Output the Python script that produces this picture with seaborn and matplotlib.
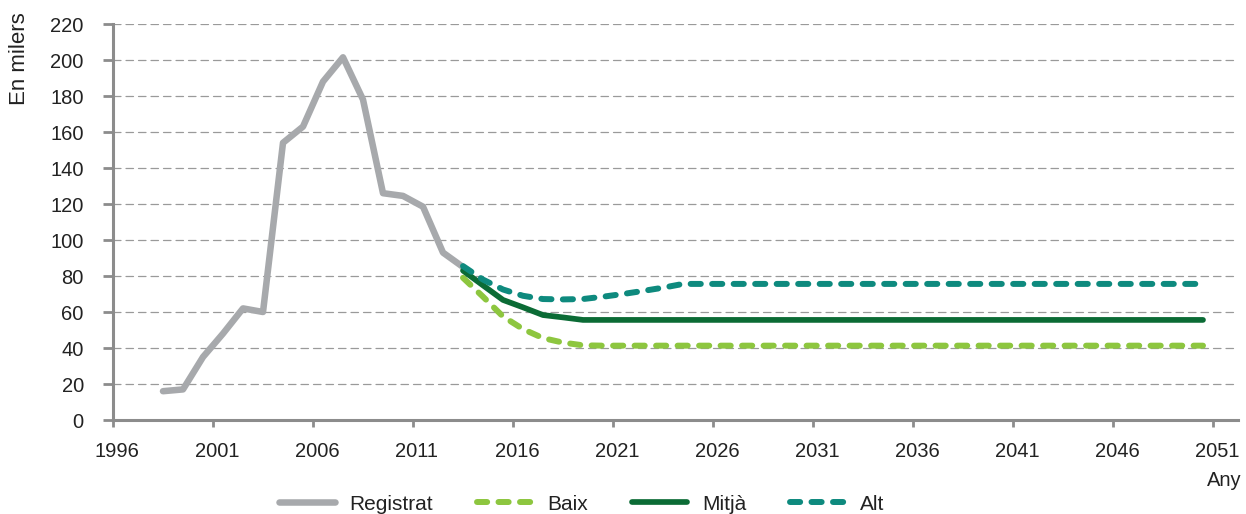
import matplotlib
matplotlib.use('agg')
from matplotlib import pyplot as plt
from matplotlib.ticker import FixedLocator
import seaborn as sns
import pandas as pd

# dades (en milers)
anys_reg = list(range(1998, 2014))
registrat = [16, 17, 35, 48, 62, 60, 154, 163, 188, 201.5, 178, 126, 124.5, 118.5, 93, 85]

anys_proj = list(range(2013, 2051))
baix = [79, 68.5, 57.5, 50.5, 45.5, 43, 41.5,
        41.3, 41.3, 41.3, 41.3, 41.3, 41.3, 41.3, 41.3, 41.3, 41.3,
        41.3, 41.3, 41.3, 41.3, 41.3, 41.3, 41.3, 41.3, 41.3, 41.3,
        41.3, 41.3, 41.3, 41.3, 41.3, 41.3, 41.3, 41.3, 41.3, 41.3, 41.3]
mitja = [83, 74.8, 66.7, 62.6, 58.3, 57, 55.6,
         55.6, 55.6, 55.6, 55.6, 55.6, 55.6, 55.6, 55.6, 55.6, 55.6,
         55.6, 55.6, 55.6, 55.6, 55.6, 55.6, 55.6, 55.6, 55.6, 55.6,
         55.6, 55.6, 55.6, 55.6, 55.6, 55.6, 55.6, 55.6, 55.6, 55.6, 55.6]
alt = [85.5, 78, 72.5, 69, 67.2, 67, 67.2, 68.5, 70, 71.7, 73.5, 75.6,
       75.6, 75.6, 75.6, 75.6, 75.6, 75.6, 75.6, 75.6, 75.6, 75.6, 75.6,
       75.6, 75.6, 75.6, 75.6, 75.6, 75.6, 75.6, 75.6, 75.6, 75.6, 75.6,
       75.6, 75.6, 75.6, 75.6]

tick_years = list(range(1996, 2052, 5))

sns.set_style('white')
plt.rcParams['font.family'] = ['Liberation Sans', 'DejaVu Sans']
plt.rcParams['lines.solid_capstyle'] = 'round'
plt.rcParams['lines.dash_capstyle'] = 'round'
plt.rcParams['text.color'] = '#222222'

fig = plt.figure(figsize=(12.46, 5.14), dpi=100)
ax = fig.add_axes([113 / 1246, 1 - 420 / 514, (1238 - 113) / 1246, (420 - 24) / 514])

df_reg = pd.DataFrame({'any': anys_reg, 'valor': registrat})
df_proj = pd.DataFrame({'any': anys_proj, 'Baix': baix, 'Mitjà': mitja, 'Alt': alt})

dash = (0, (1.7, 1.9))
sns.lineplot(data=df_reg, x='any', y='valor', ax=ax, color='#A7A9AC', lw=4.7, label='Registrat')
sns.lineplot(data=df_proj, x='any', y='Baix', ax=ax, color='#8DC63F', lw=4.3, linestyle=dash, label='Baix')
sns.lineplot(data=df_proj, x='any', y='Mitjà', ax=ax, color='#0B6B35', lw=4.1, label='Mitjà')
sns.lineplot(data=df_proj, x='any', y='Alt', ax=ax, color='#0E8A7E', lw=4.3, linestyle=dash, label='Alt')

ax.set_xlim(1995.5, 2051.75)
ax.set_ylim(0, 220)
ax.set_yticks(range(0, 221, 20))
# etiquetes just a la dreta de cada marca
ax.set_xticks([y - 0.3 for y in tick_years])
ax.set_xticklabels([str(y) for y in tick_years])
ax.xaxis.set_minor_locator(FixedLocator([y - 0.5 for y in tick_years]))
ax.tick_params(axis='x', which='major', length=0, pad=16, labelsize=14.5, labelcolor='#222222')
ax.tick_params(axis='x', which='minor', length=5, width=2, color='#8C8C8C', direction='out', bottom=True)
ax.tick_params(axis='y', which='major', length=7, width=2, color='#8C8C8C', direction='out', left=True,
               pad=14, labelsize=14.5, labelcolor='#222222')
ax.set_xlabel('')
ax.set_ylabel('')

ax.grid(axis='y', color='#9A9A9A', linestyle=(0, (6, 4)), linewidth=0.9)
ax.set_axisbelow(True)
for s in ['top', 'right']:
    ax.spines[s].set_visible(False)
for s in ['left', 'bottom']:
    ax.spines[s].set_color('#8C8C8C')
    ax.spines[s].set_linewidth(2.2)

fig.text(20 / 1246, 1 - 12 / 514, 'En milers', rotation=90, va='top', ha='center', fontsize=16)
fig.text(1242 / 1246, 1 - 480 / 514, 'Any', ha='right', va='center', fontsize=14.5)

ax.legend(loc='center', bbox_to_anchor=(582 / 1246, 1 - 504 / 514), bbox_transform=fig.transFigure,
          ncol=4, frameon=False, fontsize=15, handlelength=2.65, columnspacing=2.1, handletextpad=0.72)

fig.savefig('out.png', dpi=100)
